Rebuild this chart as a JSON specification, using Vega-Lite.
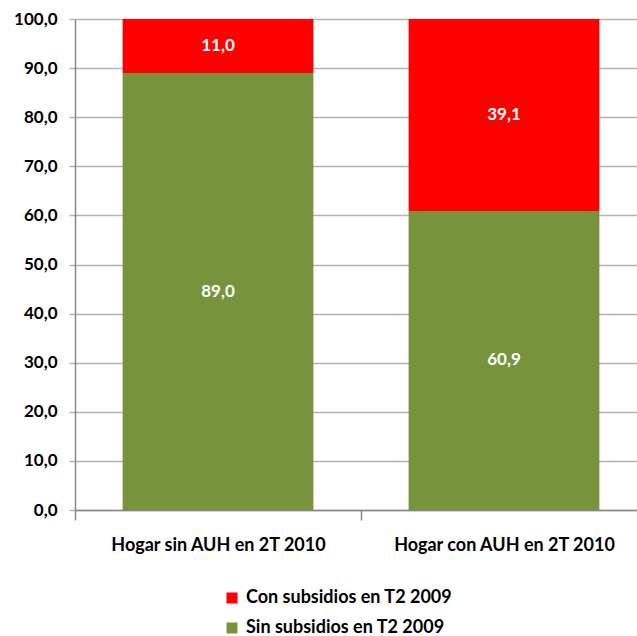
{
  "$schema": "https://vega.github.io/schema/vega-lite/v6.json",
  "width": 572,
  "height": 491,
  "autosize": {"type": "none"},
  "padding": {"left": 75, "top": 19, "right": 0, "bottom": 126},
  "background": "white",
  "config": {
    "view": {"stroke": null},
    "font": "Lato",
    "locale": {"number": {"decimal": ",", "thousands": ".", "grouping": [3], "currency": ["$", ""]}}
  },
  "data": {
    "values": [
      {"hogar": "Hogar sin AUH en 2T 2010", "serie": "Sin subsidios en T2 2009", "valor": 89.0},
      {"hogar": "Hogar sin AUH en 2T 2010", "serie": "Con subsidios en T2 2009", "valor": 11.0},
      {"hogar": "Hogar con AUH en 2T 2010", "serie": "Sin subsidios en T2 2009", "valor": 60.9},
      {"hogar": "Hogar con AUH en 2T 2010", "serie": "Con subsidios en T2 2009", "valor": 39.1}
    ]
  },
  "encoding": {
    "x": {
      "field": "hogar",
      "type": "nominal",
      "sort": null,
      "title": null,
      "scale": {"paddingInner": 0, "paddingOuter": 0},
      "axis": {
        "labelAngle": 0,
        "labelFont": "Lato",
        "labelFontWeight": "bold",
        "labelFontSize": 18,
        "labelColor": "#000000",
        "labelPadding": 16,
        "labelLimit": 400,
        "domainColor": "#868686",
        "domainWidth": 1.5,
        "tickColor": "#868686",
        "tickWidth": 1.5,
        "tickSize": 10,
        "tickBand": "extent",
        "grid": false
      }
    }
  },
  "layer": [
    {
      "mark": {"type": "bar", "width": {"band": 0.667}},
      "encoding": {
        "y": {
          "field": "valor",
          "type": "quantitative",
          "stack": "zero",
          "title": null,
          "scale": {"domain": [0, 100], "nice": false},
          "axis": {
            "values": [0, 10, 20, 30, 40, 50, 60, 70, 80, 90, 100],
            "format": ".1f",
            "labelFont": "Lato",
            "labelFontWeight": "bold",
            "labelFontSize": 17,
            "labelColor": "#000000",
            "labelPadding": 12,
            "domainColor": "#868686",
            "domainWidth": 1.5,
            "tickColor": "#b3b3b3",
            "tickWidth": 1.5,
            "tickSize": 6,
            "gridColor": "#b3b3b3",
            "gridWidth": 1.5
          }
        },
        "color": {
          "field": "serie",
          "type": "nominal",
          "scale": {
            "domain": ["Con subsidios en T2 2009", "Sin subsidios en T2 2009"],
            "range": ["#FF0000", "#77933C"]
          },
          "legend": {
            "title": null,
            "orient": "none",
            "legendX": 148,
            "legendY": 570,
            "direction": "vertical",
            "symbolType": "square",
            "symbolSize": 121,
            "symbolStrokeWidth": 0,
            "labelFont": "Lato",
            "labelFontWeight": "bold",
            "labelFontSize": 18,
            "labelColor": "#000000",
            "labelOffset": 5,
            "rowPadding": 12,
            "labelLimit": 400
          }
        },
        "order": {"field": "serie", "sort": "descending"}
      }
    },
    {
      "transform": [
        {"stack": "valor", "groupby": ["hogar"], "as": ["v0", "v1"], "sort": [{"field": "serie", "order": "descending"}]},
        {"fold": ["v0", "v1"], "as": ["extremo", "pos"]}
      ],
      "mark": {"type": "text", "color": "white", "font": "Lato", "fontWeight": "bold", "fontSize": 17, "align": "center", "baseline": "middle"},
      "encoding": {
        "y": {"aggregate": "mean", "field": "pos", "type": "quantitative"},
        "detail": {"field": "serie"},
        "text": {"aggregate": "max", "field": "valor", "type": "quantitative", "format": ".1f"}
      }
    }
  ]
}
